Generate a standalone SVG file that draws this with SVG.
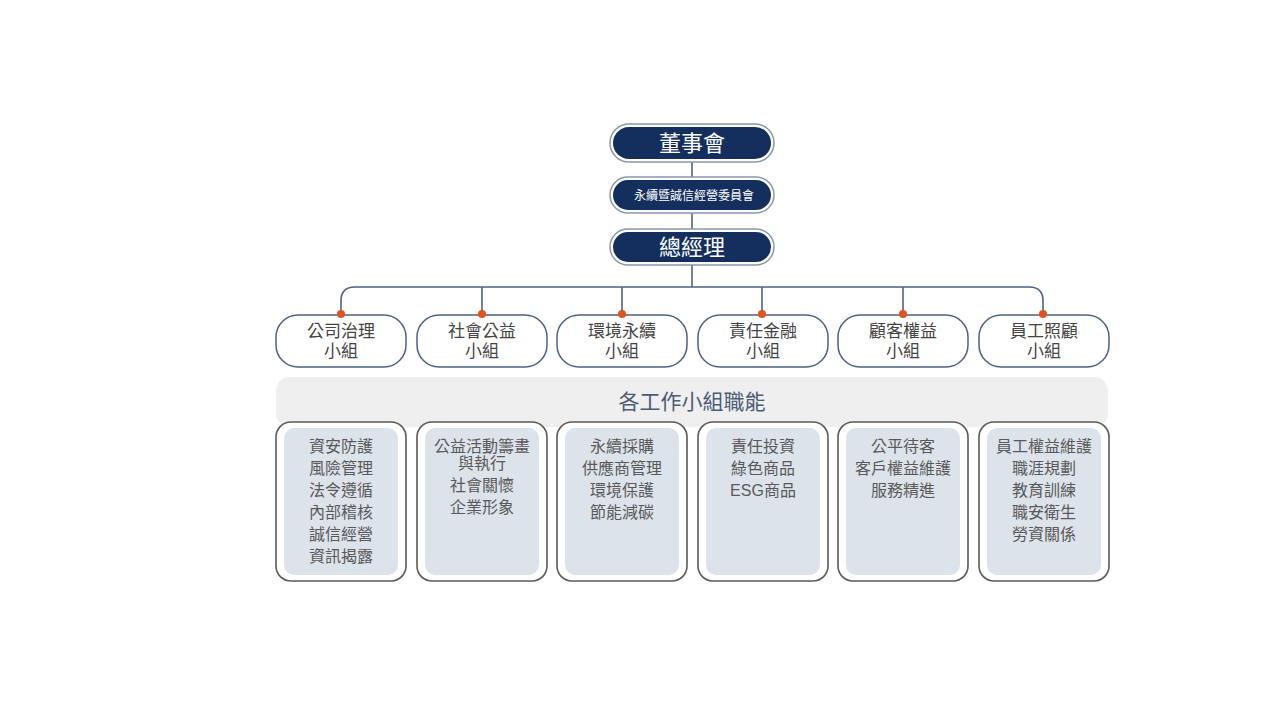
<svg xmlns="http://www.w3.org/2000/svg" width="1280" height="720" viewBox="0 0 1280 720">
<style>
.top-o{fill:#ffffff;stroke:#8a97a8;stroke-width:1.5}
.top-i{fill:#142f5e}
.top-t{fill:#ffffff;font-family:"Liberation Sans","Noto Sans CJK TC",sans-serif;text-anchor:middle}
.grp{fill:#ffffff;stroke:#4d6283;stroke-width:1.5}
.grp-t{fill:#444444;font-family:"Liberation Sans","Noto Sans CJK TC",sans-serif;font-size:17px;text-anchor:middle}
.dot{fill:#e2531f}
.conn{fill:none;stroke:#4d6283;stroke-width:1.6}
.fo{fill:#ffffff;stroke:#5a5a5a;stroke-width:1.6}
.fi{fill:#dde3ea}
.ft{fill:#595959;font-family:"Liberation Sans","Noto Sans CJK TC",sans-serif;font-size:16px;text-anchor:middle}
</style>
<rect width="1280" height="720" fill="#ffffff"/>
<g id="connectors">
<line class="conn" x1="692" y1="162" x2="692" y2="177"/>
<line class="conn" x1="692" y1="213" x2="692" y2="229"/>
<line class="conn" x1="692" y1="265" x2="692" y2="287"/>
<path class="conn" d="M341,314 V301 Q341,287 355,287 H1029 Q1043,287 1043,301 V314"/>
<line class="conn" x1="482" y1="287" x2="482" y2="314"/>
<line class="conn" x1="622" y1="287" x2="622" y2="314"/>
<line class="conn" x1="762" y1="287" x2="762" y2="314"/>
<line class="conn" x1="903" y1="287" x2="903" y2="314"/>
</g>
<g id="board">
<rect class="top-o" x="610" y="124" width="164" height="38" rx="19"/>
<rect class="top-i" x="613" y="127" width="158" height="32" rx="16"/>
<text class="top-t" x="692" y="151" font-size="22">董事會</text>
</g>
<g id="committee">
<rect class="top-o" x="610" y="177" width="164" height="36" rx="18"/>
<rect class="top-i" x="613" y="180" width="158" height="30" rx="15"/>
<text class="top-t" x="694" y="200" font-size="12">永續暨誠信經營委員會</text>
</g>
<g id="gm">
<rect class="top-o" x="610" y="229" width="164" height="36" rx="18"/>
<rect class="top-i" x="613" y="232" width="158" height="30" rx="15"/>
<text class="top-t" x="692" y="255" font-size="22">總經理</text>
</g>
<g id="grp1">
<rect class="grp" x="276" y="315" width="130" height="52" rx="22"/>
<circle class="dot" cx="341" cy="314" r="4"/>
<text class="grp-t" x="341" y="337">公司治理</text>
<text class="grp-t" x="341" y="357">小組</text>
</g>
<g id="grp2">
<rect class="grp" x="417" y="315" width="130" height="52" rx="22"/>
<circle class="dot" cx="482" cy="314" r="4"/>
<text class="grp-t" x="482" y="337">社會公益</text>
<text class="grp-t" x="482" y="357">小組</text>
</g>
<g id="grp3">
<rect class="grp" x="557" y="315" width="130" height="52" rx="22"/>
<circle class="dot" cx="622" cy="314" r="4"/>
<text class="grp-t" x="622" y="337">環境永續</text>
<text class="grp-t" x="622" y="357">小組</text>
</g>
<g id="grp4">
<rect class="grp" x="698" y="315" width="130" height="52" rx="22"/>
<circle class="dot" cx="762" cy="314" r="4"/>
<text class="grp-t" x="763" y="337">責任金融</text>
<text class="grp-t" x="763" y="357">小組</text>
</g>
<g id="grp5">
<rect class="grp" x="838" y="315" width="130" height="52" rx="22"/>
<circle class="dot" cx="903" cy="314" r="4"/>
<text class="grp-t" x="903" y="337">顧客權益</text>
<text class="grp-t" x="903" y="357">小組</text>
</g>
<g id="grp6">
<rect class="grp" x="979" y="315" width="130" height="52" rx="22"/>
<circle class="dot" cx="1043" cy="314" r="4"/>
<text class="grp-t" x="1044" y="337">員工照顧</text>
<text class="grp-t" x="1044" y="357">小組</text>
</g>
<g id="header">
<rect x="276" y="377" width="832" height="50" rx="14" fill="#efefef"/>
<text x="692" y="409" font-family="Liberation Sans,Noto Sans CJK TC,sans-serif" font-size="21" fill="#4c5c74" text-anchor="middle">各工作小組職能</text>
</g>
<g id="func1">
<rect class="fo" x="276" y="422" width="130" height="159" rx="15"/>
<rect class="fi" x="284" y="428" width="114" height="147" rx="10"/>
<text class="ft" x="341" y="452">資安防護</text>
<text class="ft" x="341" y="474">風險管理</text>
<text class="ft" x="341" y="496">法令遵循</text>
<text class="ft" x="341" y="518">內部稽核</text>
<text class="ft" x="341" y="540">誠信經營</text>
<text class="ft" x="341" y="562">資訊揭露</text>
</g>
<g id="func2">
<rect class="fo" x="417" y="422" width="130" height="159" rx="15"/>
<rect class="fi" x="425" y="428" width="114" height="147" rx="10"/>
<text class="ft" x="482" y="452">公益活動籌畫</text>
<text class="ft" x="482" y="469">與執行</text>
<text class="ft" x="482" y="491">社會關懷</text>
<text class="ft" x="482" y="513">企業形象</text>
</g>
<g id="func3">
<rect class="fo" x="557" y="422" width="130" height="159" rx="15"/>
<rect class="fi" x="565" y="428" width="114" height="147" rx="10"/>
<text class="ft" x="622" y="452">永續採購</text>
<text class="ft" x="622" y="474">供應商管理</text>
<text class="ft" x="622" y="496">環境保護</text>
<text class="ft" x="622" y="518">節能減碳</text>
</g>
<g id="func4">
<rect class="fo" x="698" y="422" width="130" height="159" rx="15"/>
<rect class="fi" x="706" y="428" width="114" height="147" rx="10"/>
<text class="ft" x="763" y="452">責任投資</text>
<text class="ft" x="763" y="474">綠色商品</text>
<text class="ft" x="763" y="496">ESG商品</text>
</g>
<g id="func5">
<rect class="fo" x="838" y="422" width="130" height="159" rx="15"/>
<rect class="fi" x="846" y="428" width="114" height="147" rx="10"/>
<text class="ft" x="903" y="452">公平待客</text>
<text class="ft" x="903" y="474">客戶權益維護</text>
<text class="ft" x="903" y="496">服務精進</text>
</g>
<g id="func6">
<rect class="fo" x="979" y="422" width="130" height="159" rx="15"/>
<rect class="fi" x="987" y="428" width="114" height="147" rx="10"/>
<text class="ft" x="1044" y="452">員工權益維護</text>
<text class="ft" x="1044" y="474">職涯規劃</text>
<text class="ft" x="1044" y="496">教育訓練</text>
<text class="ft" x="1044" y="518">職安衛生</text>
<text class="ft" x="1044" y="540">勞資關係</text>
</g>
</svg>
